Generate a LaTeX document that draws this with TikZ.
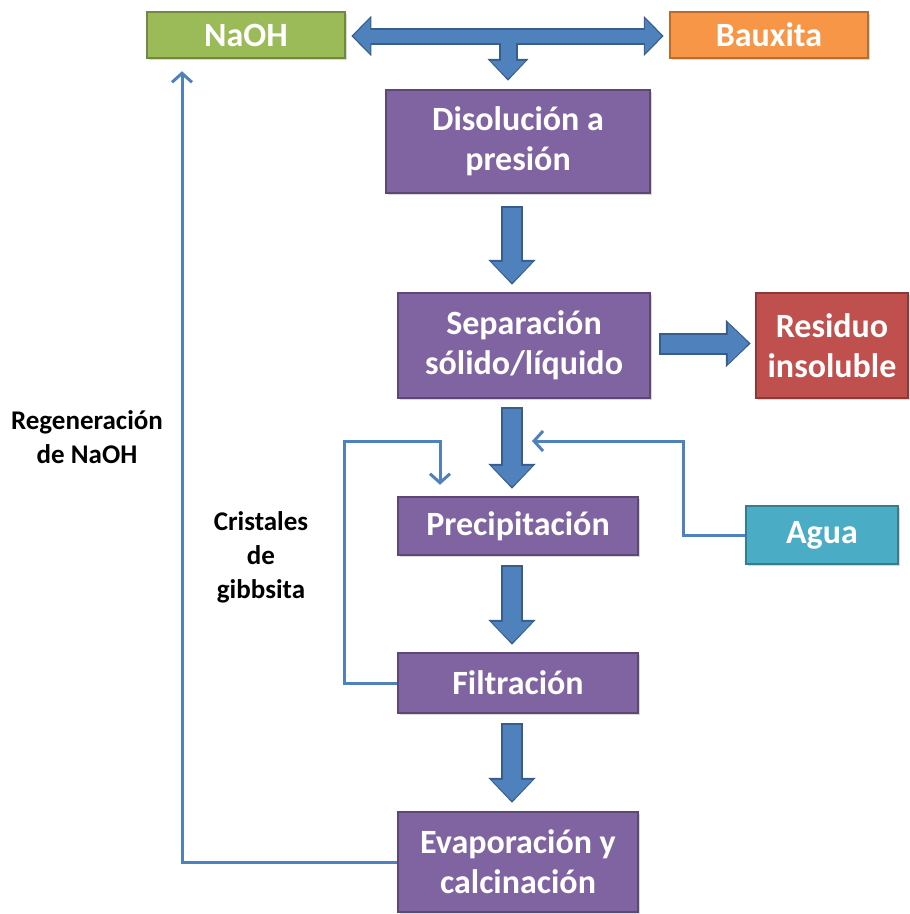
\documentclass[tikz,border=0pt]{standalone}
\usepackage{fontspec}
\setmainfont{Carlito}
\usetikzlibrary{arrows.meta,calc,shadows}
\definecolor{gfill}{HTML}{9BBB59}\definecolor{gline}{HTML}{71893F}
\definecolor{ofill}{HTML}{F79646}\definecolor{oline}{HTML}{B66D31}
\definecolor{pfill}{HTML}{8064A2}\definecolor{pline}{HTML}{5C4776}
\definecolor{rfill}{HTML}{C0504D}\definecolor{rline}{HTML}{8C3836}
\definecolor{tfill}{HTML}{4BACC6}\definecolor{tline}{HTML}{357D91}
\definecolor{bfill}{HTML}{4F81BD}\definecolor{bline}{HTML}{385D8A}
\tikzset{
  box/.style={draw, line width=2.5pt, text=white, align=center, inner sep=0pt,
    font=\bfseries\fontsize{34}{40}\selectfont,
    drop shadow={opacity=0.3, shadow xshift=2pt, shadow yshift=-2pt}},
  pbox/.style={box, fill=pfill, draw=pline},
  bigdark/.style={line width=22pt, bline, -{Triangle[width=46pt,length=25pt]}},
  bigarrow/.style={line width=18pt, bfill, -{Triangle[width=40pt,length=21pt]}},
  dbldark/.style={line width=17pt, bline, {Triangle[width=39pt,length=20pt]}-{Triangle[width=39pt,length=20pt]}},
  dblarrow/.style={line width=13pt, bfill, {Triangle[width=34pt,length=17pt]}-{Triangle[width=34pt,length=17pt]}},
  thinline/.style={line width=3pt, bfill, line join=miter},
  thinarrow/.style={thinline, -{Straight Barb[length=9pt,width=20pt]}},
  lbl/.style={align=center, font=\bfseries\fontsize{27}{34}\selectfont, text=black}
}
\begin{document}
\begin{tikzpicture}[x=1pt,y=-1pt]
\useasboundingbox (0,0) rectangle (910,914);
% nodes
\node[box, fill=gfill, draw=gline, minimum width=198pt, minimum height=46pt] (naoh) at (246,35) {NaOH};
\node[box, fill=ofill, draw=oline, minimum width=198pt, minimum height=46pt] (baux) at (769,35) {Bauxita};
\node[pbox, minimum width=264pt, minimum height=103pt] (dis) at (518,141.5) {Disolución a\\presión};
\node[pbox, minimum width=252pt, minimum height=105pt] (sep) at (524,345.5) {Separación\\sólido/líquido};
\node[box, fill=rfill, draw=rline, minimum width=152pt, minimum height=105pt] (res) at (832,345.5) {Residuo\\insoluble};
\node[pbox, minimum width=240pt, minimum height=58pt] (prec) at (518,526) {Precipitación};
\node[box, fill=tfill, draw=tline, minimum width=152pt, minimum height=58pt] (agua) at (822,535) {Agua};
\node[pbox, minimum width=240pt, minimum height=60pt] (filt) at (518,683) {Filtración};
\node[pbox, minimum width=240pt, minimum height=100pt] (evap) at (518,862) {Evaporación y\\calcinación};
\node[lbl] (lreg) at (87,437) {Regeneración\\de NaOH};
\node[lbl] (lcri) at (261,557) {Cristales\\de\\gibbsita};
% helper coordinates
\coordinate (ax) at (512,0);
\coordinate (tx) at (508,0);
\coordinate (rx) at (182,0);
\coordinate (cx) at (344,441);
\coordinate (cr) at (440,441);
\coordinate (wx) at (683,441);
% T-shaped block arrow at the top
\draw[bigdark, line width=19pt, -{Triangle[width=40pt,length=22pt]}] ($(tx |- naoh.east)$) -- ($(tx |- dis.north)+(0,-8)$);
\draw[dbldark] ($(naoh.east)+(5,1)$) -- ($(baux.west)+(-5,1)$);
\draw[bigarrow, line width=15pt, -{Triangle[width=34pt,length=18pt]}] ($(tx |- naoh.east)$) -- ($(tx |- dis.north)+(0,-10)$);
\draw[dblarrow] ($(naoh.east)+(7,1)$) -- ($(baux.west)+(-7,1)$);
% vertical block arrows
\foreach \s/\e/\a/\b in {dis/sep/12/8, sep/prec/8/8, prec/filt/9/8, filt/evap/9/9}{
  \draw[bigdark] ($(ax |- \s.south)+(0,\a)$) -- ($(ax |- \e.north)+(0,-\b+1)$);
  \draw[bigarrow] ($(ax |- \s.south)+(0,\a+1.5)$) -- ($(ax |- \e.north)+(0,-\b-1)$);
}
\draw[bigdark] ($(sep.east)+(8,-2)$) -- ($(res.west)+(-4,-2)$);
\draw[bigarrow] ($(sep.east)+(9.5,-2)$) -- ($(res.west)+(-6,-2)$);
% thin lines
\draw[thinarrow] (evap.west) -| ($(rx |- naoh.south)+(0,12)$);
\draw[thinarrow] (filt.west) -| (cx) -- (cr) -- ($(cr |- prec.north)+(0,-11)$);
\draw[thinarrow] (agua.west) -| (wx) -- ($(ax |- wx)+(20,0)$);
\end{tikzpicture}
\end{document}
